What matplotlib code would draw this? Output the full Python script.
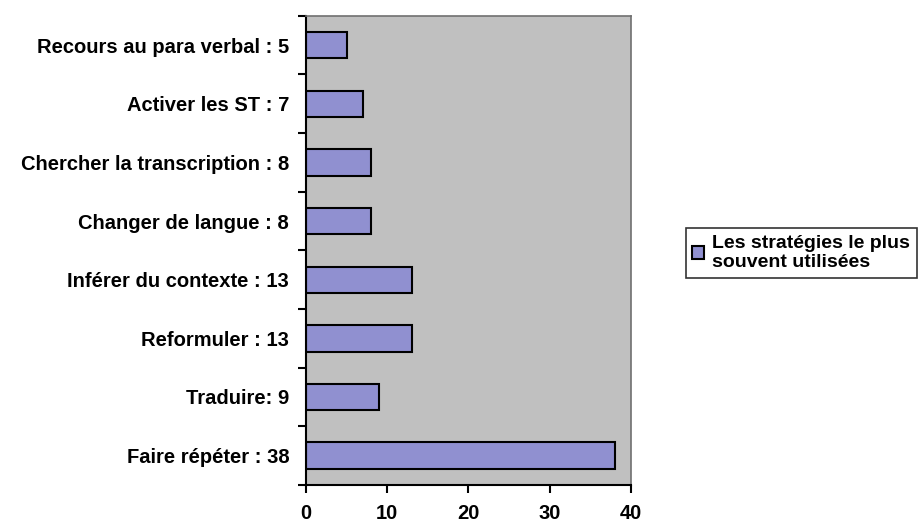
import numpy as np
import matplotlib.pyplot as plt
from matplotlib.ticker import FixedLocator

labels = [
    "Faire répéter : 38",
    "Traduire: 9",
    "Reformuler : 13",
    "Inférer du contexte : 13",
    "Changer de langue : 8",
    "Chercher la transcription : 8",
    "Activer les ST : 7",
    "Recours au para verbal : 5",
]
values = [38, 9, 13, 13, 8, 8, 7, 5]
series_name = "Les stratégies le plus\nsouvent utilisées"
xticks = [0, 10, 20, 30, 40]

plt.rcParams['font.family'] = ['Liberation Sans', 'DejaVu Sans']
plt.rcParams['font.weight'] = 'bold'

fig = plt.figure(figsize=(9.24, 5.26), dpi=100)
ax = fig.add_axes([0.331, 0.078, 0.352, 0.892])
ax.set_facecolor('#c0c0c0')

pos = np.arange(len(values))
ax.barh(pos, values, height=0.45, color='#9090d0', edgecolor='black',
        linewidth=1.5, label=series_name)

ax.set_xlim(0, 40)
ax.set_ylim(-0.5, len(values) - 0.5)
ax.set_xticks(xticks)
ax.set_xticklabels([str(t) for t in xticks], fontsize=14.5, fontweight='bold')
ax.set_yticks(pos)
ax.set_yticklabels(labels, fontsize=14.5, fontweight='bold')
ax.tick_params(axis='y', which='major', length=0, pad=12)
ax.yaxis.set_minor_locator(FixedLocator(np.arange(-0.5, len(values), 1)))
ax.tick_params(axis='y', which='minor', length=6, width=1.5, direction='out')
ax.tick_params(axis='x', length=6, width=1.5, direction='out', pad=8)

for side in ['left', 'bottom']:
    ax.spines[side].set_linewidth(1.5)
    ax.spines[side].set_color('black')
for side in ['top', 'right']:
    ax.spines[side].set_linewidth(1.2)
    ax.spines[side].set_color('#707070')

leg = fig.legend(loc='upper left', bbox_to_anchor=(0.742, 0.567),
                 frameon=True, fancybox=False, edgecolor='black',
                 prop={'weight': 'bold', 'size': 14},
                 handlelength=0.6, handleheight=0.6, handletextpad=0.4,
                 borderpad=0.35, borderaxespad=0, labelspacing=0.3)
leg.get_frame().set_linewidth(1.2)

fig.savefig('out.png', dpi=100)
